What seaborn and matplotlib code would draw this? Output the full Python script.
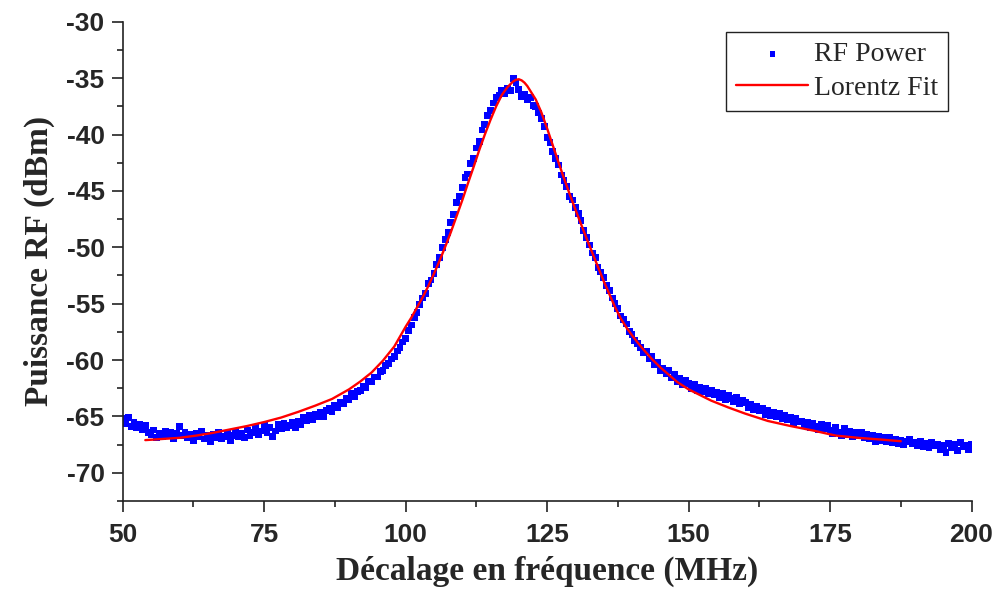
import numpy as np
import pandas as pd
import matplotlib
matplotlib.use("Agg")
import matplotlib.pyplot as plt
import seaborn as sns
from matplotlib.ticker import MultipleLocator

# ---------------- data ----------------
FREQ_START = 50.0   # MHz, first sample
FREQ_STEP = 0.5     # MHz, sampling step of the measured trace

rf_power = [
    -65.2, -65.6, -65.1, -65.9, -65.5, -66.0, -65.7, -66.2, -65.8, -66.4,
    -66.6, -66.2, -66.9, -66.5, -66.8, -66.3, -66.7, -66.4, -67.0, -66.5,
    -65.9, -66.7, -66.4, -66.9, -66.6, -67.1, -66.5, -66.8, -66.3, -67.0,
    -66.7, -67.2, -66.6, -66.9, -66.4, -67.0, -66.8, -66.5, -67.1, -66.7,
    -66.3, -66.8, -66.5, -66.9, -66.2, -66.7, -66.4, -66.0, -66.6, -66.3,
    -65.8, -66.4, -66.0, -66.8, -66.3, -65.7, -66.1, -65.6, -66.0, -65.8,
    -65.5, -66.0, -65.4, -65.7, -65.1, -65.4, -64.9, -65.3, -64.8, -65.0,
    -64.6, -65.0, -64.5, -64.3, -64.6, -64.0, -64.2, -63.8, -63.9, -63.4,
    -63.5, -63.0, -63.2, -62.8, -62.7, -62.3, -62.4, -61.9, -61.9, -61.5,
    -61.5, -61.0, -60.9, -60.5, -60.3, -59.9, -59.7, -59.2, -58.9, -58.4,
    -58.1, -57.4, -56.9, -56.2, -55.8, -55.1, -54.5, -54.1, -53.2, -52.9,
    -52.3, -51.5, -50.9, -50.0, -49.3, -48.7, -47.8, -47.1, -46.0, -45.5,
    -44.7, -43.8, -43.5, -42.6, -42.1, -41.2, -40.6, -39.6, -39.1, -38.3,
    -37.9, -37.2, -36.7, -36.5, -36.1, -36.4, -35.9, -36.1, -35.0, -35.4,
    -36.0, -36.6, -36.4, -36.9, -36.7, -37.4, -37.5, -38.1, -38.6, -39.3,
    -40.3, -40.7, -41.5, -42.1, -42.7, -43.6, -44.1, -44.6, -45.5, -45.8,
    -46.5, -47.0, -47.6, -48.5, -49.1, -49.8, -50.5, -50.9, -51.8, -52.2,
    -52.7, -53.4, -53.8, -54.5, -55.0, -55.4, -56.1, -56.4, -56.8, -57.5,
    -57.7, -58.3, -58.5, -58.9, -59.3, -59.2, -59.9, -59.7, -60.4, -60.2,
    -60.9, -60.7, -61.2, -60.9, -61.6, -61.3, -61.9, -61.6, -62.2, -61.8,
    -62.1, -62.5, -62.2, -62.7, -62.4, -62.8, -62.5, -63.0, -62.7, -63.1,
    -62.9, -63.3, -63.0, -63.5, -63.1, -63.4, -63.7, -63.3, -63.9, -63.6,
    -63.8, -64.2, -63.9, -64.4, -64.1, -64.5, -64.3, -64.8, -64.5, -64.9,
    -64.6, -65.0, -64.7, -65.2, -64.9, -65.3, -65.1, -65.6, -65.2, -65.5,
    -65.4, -65.8, -65.5, -66.0, -65.6, -65.9, -66.2, -65.7, -66.1, -65.8,
    -66.2, -66.5, -66.0, -66.4, -66.7, -66.1, -66.6, -66.3, -66.8, -66.4,
    -66.7, -66.4, -66.9, -66.6, -67.0, -66.7, -67.2, -66.8, -67.1, -66.9,
    -67.2, -66.9, -67.3, -67.0, -67.4, -67.1, -67.5, -67.2, -67.0, -67.4,
    -67.3, -67.6, -67.2, -67.7, -67.4, -67.8, -67.3, -67.6, -67.5, -67.9,
    -67.6, -68.2, -67.4, -67.8, -67.5, -68.0, -67.3, -67.7, -67.6, -67.9,
    -67.5,
]
freq = FREQ_START + FREQ_STEP * np.arange(len(rf_power))

fit_freq = [54.0, 57, 60, 63, 66, 69, 72, 75, 78, 81, 84, 87, 90, 92, 94, 96,
            98, 100, 101, 102, 103, 104, 105, 106, 107, 108, 109, 110, 111,
            112, 113, 114, 115, 116, 117, 118, 119, 119.5, 120, 120.5, 121,
            121.5, 122, 123, 124, 125, 126, 127, 128, 129, 130, 131, 132,
            133, 134, 135, 136, 137, 138, 139, 140, 141, 142, 143.5, 145,
            146.5, 148, 150, 152, 154, 157, 160, 164, 168, 172, 176, 180,
            184, 187.5]
fit_power = [-67.1, -67.0, -66.9, -66.7, -66.45, -66.15, -65.85, -65.5, -65.1,
             -64.6, -64.05, -63.45, -62.6, -61.9, -61.1, -60.05, -58.8,
             -57.05, -56.25, -55.35, -54.45, -53.45, -52.35, -51.2, -49.95,
             -48.65, -47.25, -45.85, -44.35, -42.9, -41.4, -40.0, -38.7,
             -37.5, -36.5, -35.8, -35.3, -35.15, -35.1, -35.2, -35.4, -35.7,
             -36.1, -36.9, -38.05, -39.45, -40.95, -42.45, -43.9, -45.3,
             -46.65, -47.95, -49.25, -50.5, -51.75, -53.0, -54.15, -55.3,
             -56.3, -57.1, -57.8, -58.45, -59.05, -59.9, -60.65, -61.3,
             -61.95, -62.6, -63.1, -63.6, -64.2, -64.75, -65.4, -65.85,
             -66.25, -66.7, -66.9, -67.05, -67.2]

x_ticks = [50, 75, 100, 125, 150, 175, 200]
y_ticks = [-70, -65, -60, -55, -50, -45, -40, -35, -30]
x_label = "Décalage en fréquence (MHz)"
y_label = "Puissance RF (dBm)"

# ---------------- plotting ----------------
sns.set_theme(style="ticks")
plt.rcParams["font.family"] = ["Liberation Sans", "DejaVu Sans"]
plt.rcParams["axes.unicode_minus"] = False

fig = plt.figure(figsize=(10.03, 5.97), dpi=100)
ax = fig.add_axes([0.1223, 0.1608, 0.8463, 0.8028])

meas = pd.DataFrame({"freq": freq, "power": rf_power})
fit = pd.DataFrame({"freq": fit_freq, "power": fit_power})

sns.scatterplot(data=meas, x="freq", y="power", ax=ax, marker="s", s=24,
                color="#0000ff", edgecolor="none", linewidth=0,
                label="RF Power", zorder=2)
sns.lineplot(data=fit, x="freq", y="power", ax=ax, color="#ff0000",
             linewidth=1.7, label="Lorentz Fit", zorder=3, sort=False)

ax.set_xlim(50, 200)
ax.set_ylim(-72.5, -30)
ax.set_xticks(x_ticks)
ax.set_yticks(y_ticks)
ax.xaxis.set_minor_locator(MultipleLocator(12.5))
ax.yaxis.set_minor_locator(MultipleLocator(2.5))

for side in ["top", "right"]:
    ax.spines[side].set_visible(False)
for side in ["left", "bottom"]:
    ax.spines[side].set_linewidth(1.2)
    ax.spines[side].set_color("#222222")

ax.tick_params(axis="both", which="major", direction="out", length=8,
               width=1.2, color="#222222", labelsize=19)
ax.tick_params(axis="x", which="major", pad=8)
ax.tick_params(axis="y", which="major", pad=5)
ax.tick_params(axis="both", which="minor", direction="out", length=4,
               width=1.2, color="#222222")
for lab in ax.get_xticklabels() + ax.get_yticklabels():
    lab.set_fontweight("bold")
    lab.set_family(["Liberation Sans", "DejaVu Sans"])

label_font = dict(family=["Liberation Serif", "DejaVu Serif"],
                  fontweight="bold", fontsize=24)
ax.set_xlabel(x_label, labelpad=6, **label_font)
ax.set_ylabel(y_label, labelpad=8, **label_font)

leg = ax.legend(loc="upper right", bbox_to_anchor=(0.972, 0.978),
                prop={"family": ["Liberation Serif", "DejaVu Serif"],
                      "size": 20},
                frameon=True, fancybox=False, edgecolor="#222222",
                framealpha=1, handlelength=2.6, handletextpad=0.2,
                borderpad=0.35, labelspacing=0.3, borderaxespad=0,
                markerscale=0.8)
leg.get_frame().set_linewidth(1.0)

fig.savefig("out.png", dpi=100)
